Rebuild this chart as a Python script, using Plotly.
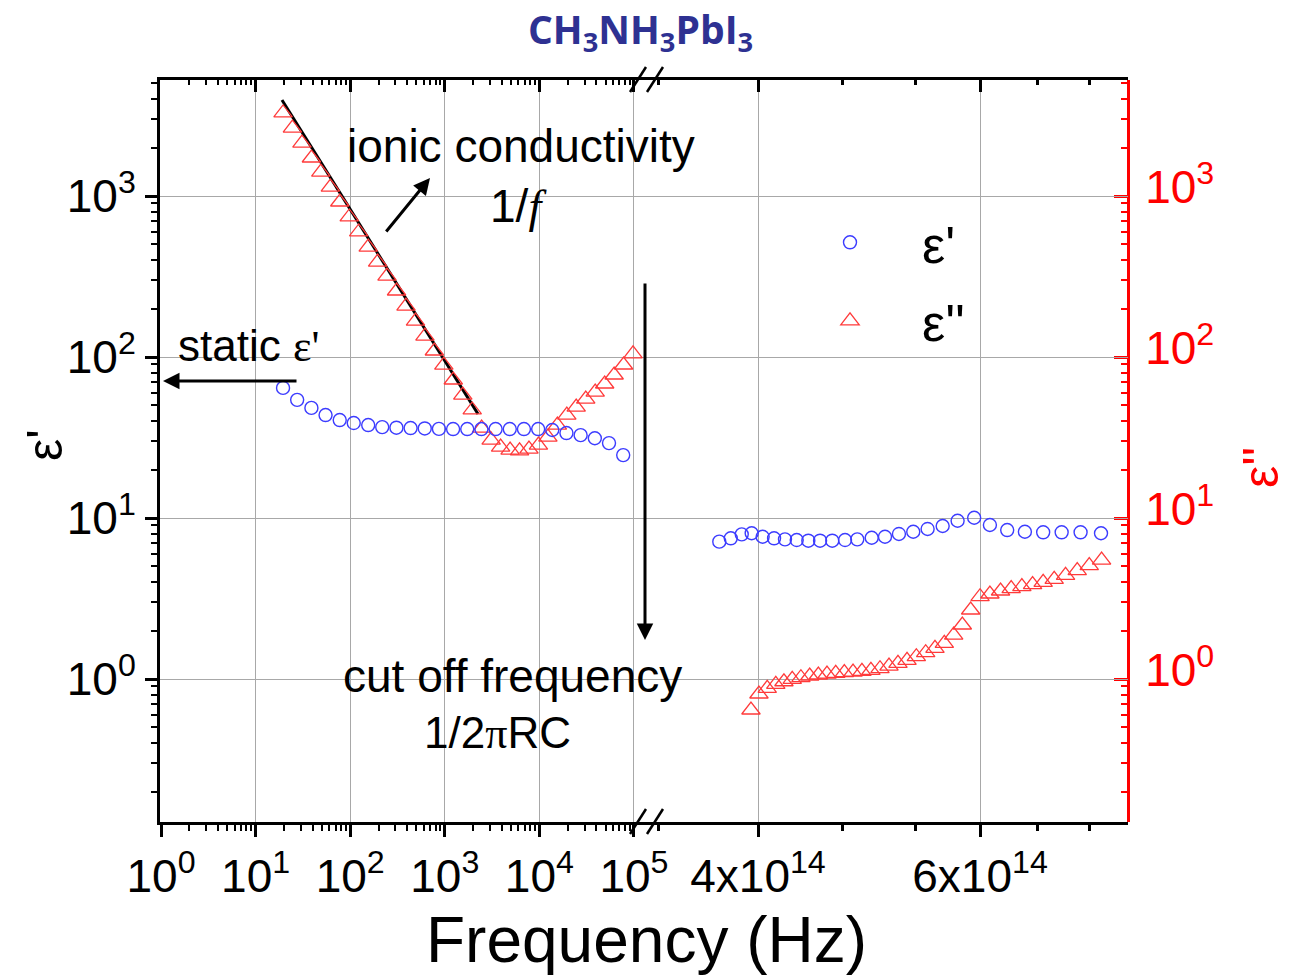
import plotly.graph_objects as go

# ---------------- data ----------------
# low-frequency (impedance) region
f_eps1_low = [19.5, 27.5, 38.9, 54.9, 77.5, 109, 155, 218, 308, 435, 614, 867, 1224, 1727,
              2439, 3444, 4863, 6866, 9705, 13680, 19320, 27290, 38550, 54450, 76900]
eps1_low = [64.3, 54.2, 48.3, 43.6, 40.6, 38.9, 37.8, 36.7, 36.4, 36.2, 36.0, 35.8, 35.7, 35.7,
            35.7, 35.7, 35.7, 35.7, 35.7, 35.2, 33.7, 32.7, 31.3, 29.2, 24.6]

f_eps2_low = [19.5, 24.5, 30.9, 38.9, 48.9, 61.7, 77.6, 97.7, 123, 155, 195, 245, 309, 389,
              490, 617, 776, 977, 1230, 1550, 1950, 2450, 3090, 3890, 4900, 6170, 7760, 9770,
              12300, 15500, 19500, 24500, 30900, 38900, 49000, 61700, 77600, 97700]
eps2_low = [3280, 2642, 2133, 1722, 1409, 1137, 918, 741, 598, 482, 389, 318, 257, 207,
            167, 135, 109, 89, 72, 58, 46.9, 36.2, 30.5, 27.6, 26.4, 26.1, 26.8, 28.4,
            31.8, 37.8, 43.6, 48.9, 54.8, 60.6, 68, 77.3, 89.2, 104.5]

# optical region
f_eps1_high = [3.727e14, 3.806e14, 3.883e14, 3.954e14, 4.034e14, 4.119e14, 4.202e14, 4.293e14,
               4.385e14, 4.480e14, 4.581e14, 4.689e14, 4.795e14, 4.923e14, 5.044e14, 5.174e14,
               5.311e14, 5.452e14, 5.604e14, 5.759e14, 5.936e14, 6.109e14, 6.305e14, 6.512e14,
               6.733e14, 6.964e14, 7.209e14, 7.483e14]
eps1_high = [7.13, 7.48, 7.92, 8.04, 7.65, 7.48, 7.37, 7.30, 7.23, 7.23, 7.23, 7.30, 7.37, 7.54,
             7.65, 7.96, 8.22, 8.55, 8.92, 9.62, 10.04, 9.05, 8.42, 8.22, 8.15, 8.15, 8.15, 8.04]

f_eps2_high = [3.949e14, 4.007e14, 4.068e14, 4.132e14, 4.194e14, 4.258e14, 4.326e14, 4.396e14,
               4.466e14, 4.537e14, 4.610e14, 4.683e14, 4.758e14, 4.836e14, 4.916e14, 4.998e14,
               5.081e14, 5.165e14, 5.251e14, 5.341e14, 5.433e14, 5.526e14, 5.621e14, 5.718e14,
               5.809e14, 5.898e14, 6.000e14, 6.109e14, 6.229e14, 6.351e14, 6.476e14, 6.604e14,
               6.733e14, 6.870e14, 7.014e14, 7.165e14, 7.324e14, 7.491e14]
eps2_high = [0.642, 0.807, 0.876, 0.927, 0.962, 0.996, 1.019, 1.044, 1.059, 1.074, 1.084, 1.095,
             1.105, 1.116, 1.132, 1.159, 1.204, 1.251, 1.306, 1.376, 1.457, 1.551, 1.665, 1.876,
             2.165, 2.683, 3.246, 3.373, 3.521, 3.640, 3.746, 3.854, 3.985, 4.159, 4.405, 4.709,
             5.058, 5.484]

# 1/f guide line
fit_f = [19.0, 2244]
fit_v = [3947, 44.3]

# tick labels
xlow_tickvals = [1, 10, 100, 1e3, 1e4, 1e5]
xlow_ticktext = ["10<sup>0</sup>", "10<sup>1</sup>", "10<sup>2</sup>", "10<sup>3</sup>",
                 "10<sup>4</sup>", "10<sup>5</sup>"]
xhigh_tickvals = [4e14, 6e14]
xhigh_ticktext = ["4x10<sup>14</sup>", "6x10<sup>14</sup>"]
xhigh_minor = [3.333e14, 4.667e14, 5.333e14, 6.667e14, 7.333e14]
y_tickvals = [1, 10, 100, 1000]
y_ticktext = ["10<sup>0</sup>", "10<sup>1</sup>", "10<sup>2</sup>", "10<sup>3</sup>"]

# ---------------- layout helpers ----------------
W, H = 1289, 977
L, R, T, B = 160, 1128, 80, 822


def px(x):
    return (x - L) / (R - L)


def py(y):
    return (B - y) / (B - T)


FONT = "Liberation Sans, Arial, sans-serif"
BLUE = "#3c3cff"
RED = "#ff3a3a"
GRID = "#a8a8a8"

xlow_minor = [m * 10 ** d for d in range(0, 5) for m in range(2, 10)]
y_minor = [m * 10 ** d for d in range(-1, 4) for m in range(2, 10)]

fig = go.Figure()

circ = dict(symbol="circle-open", size=13, color=BLUE, line=dict(width=1.4, color=BLUE))
tri = dict(symbol="triangle-up-open", size=16, color=RED, line=dict(width=1.3, color=RED))

# eps' traces live on the top overlay axes (same ranges) so those axes are drawn
fig.add_trace(go.Scatter(x=f_eps1_low, y=eps1_low, mode="markers", marker=circ, name="ε'",
                         legendgroup="a", showlegend=True, xaxis="x3", yaxis="y"))
fig.add_trace(go.Scatter(x=f_eps2_low, y=eps2_low, mode="markers", marker=tri, name="ε''",
                         legendgroup="b", showlegend=True, xaxis="x", yaxis="y2"))
fig.add_trace(go.Scatter(x=f_eps1_high, y=eps1_high, mode="markers", marker=circ, name="ε'",
                         legendgroup="a", showlegend=False, xaxis="x4", yaxis="y"))
fig.add_trace(go.Scatter(x=f_eps2_high, y=eps2_high, mode="markers", marker=tri, name="ε''",
                         legendgroup="b", showlegend=False, xaxis="x2", yaxis="y"))
fig.add_trace(go.Scatter(x=fit_f, y=fit_v, mode="lines", line=dict(color="black", width=3),
                         showlegend=False, hoverinfo="skip", xaxis="x", yaxis="y"))

xlow_range = [-0.0106, 5.127]
xhigh_range = [14.51324, 14.89548]
y_range = [-0.888, 3.7205]
split = px(646)

common_x = dict(type="log", showline=True, linewidth=3, linecolor="black", zeroline=False,
                tickcolor="black", tickwidth=2.5, ticklen=12, gridcolor=GRID, gridwidth=1,
                tickmode="array")
lab_font = dict(family=FONT, size=46, color="black")

fig.update_layout(
    width=W, height=H,
    margin=dict(l=L, r=W - R, t=T, b=H - B, pad=0),
    paper_bgcolor="white", plot_bgcolor="white",
    font=dict(family=FONT, color="black"),
    xaxis=dict(**common_x, domain=[0, split], range=xlow_range, anchor="y",
               tickvals=xlow_tickvals, ticktext=xlow_ticktext, ticks="outside", showgrid=True,
               tickfont=lab_font,
               minor=dict(tickmode="array", tickvals=xlow_minor, ticks="outside", ticklen=6,
                          tickwidth=2, tickcolor="black", showgrid=False)),
    xaxis2=dict(**common_x, domain=[split, 1], range=xhigh_range, anchor="y",
                tickvals=xhigh_tickvals, ticktext=xhigh_ticktext, ticks="outside", showgrid=True,
                tickfont=lab_font,
                minor=dict(tickmode="array", tickvals=xhigh_minor, ticks="outside", ticklen=6,
                           tickwidth=2.5, tickcolor="black", showgrid=False)),
    xaxis3=dict(**common_x, overlaying="x", side="top", anchor="y", range=xlow_range,
                tickvals=xlow_tickvals, ticks="inside", showticklabels=False, showgrid=False,
                minor=dict(tickmode="array", tickvals=xlow_minor, ticks="inside", ticklen=5,
                           tickwidth=2, tickcolor="black", showgrid=False)),
    xaxis4=dict(**common_x, overlaying="x2", side="top", anchor="y", range=xhigh_range,
                tickvals=xhigh_tickvals, ticks="inside", showticklabels=False, showgrid=False,
                minor=dict(tickmode="array", tickvals=xhigh_minor, ticks="inside", ticklen=5,
                           tickwidth=2.5, tickcolor="black", showgrid=False)),
    yaxis=dict(type="log", domain=[0, 1], range=y_range, anchor="x", showline=True,
               linewidth=3, linecolor="black", zeroline=False, tickmode="array",
               tickvals=y_tickvals, ticktext=y_ticktext, ticks="outside", ticklen=12,
               tickwidth=2.5, tickcolor="black", showgrid=True, gridcolor=GRID, gridwidth=1,
               tickfont=lab_font,
               minor=dict(tickmode="array", tickvals=y_minor, ticks="outside", ticklen=6,
                          tickwidth=2, tickcolor="black", showgrid=False)),
    yaxis2=dict(type="log", range=y_range, overlaying="y", side="right", anchor="free",
                position=1,
                showline=True, linewidth=3, linecolor="red", zeroline=False, tickmode="array",
                tickvals=y_tickvals, ticktext=y_ticktext, ticks="inside", ticklen=13,
                tickwidth=2.5, tickcolor="red", showgrid=False, ticklabelshift=-9,
                ticklabelstandoff=6,
                tickfont=dict(family=FONT, size=46, color="red"),
                minor=dict(tickmode="array", tickvals=y_minor, ticks="inside", ticklen=6,
                           tickwidth=2, tickcolor="red", showgrid=False)),
    legend=dict(x=px(778), y=py(202), xanchor="left", yanchor="top",
                bgcolor="rgba(0,0,0,0)", font=dict(family=FONT, size=52, color="black"),
                itemwidth=134, tracegroupgap=8),
    showlegend=True,
)

annotations = [
    dict(x=px(640), y=py(31), text="<b>CH<sub>3</sub>NH<sub>3</sub>PbI<sub>3</sub></b>",
         font=dict(family="Open Sans, sans-serif", size=39, color="#2e3192")),
    dict(x=px(521), y=py(146), text="ionic conductivity", font=dict(size=46)),
    dict(x=px(518), y=py(206), text="1/<span style='font-family:Liberation Serif'><i>f</i></span>",
         font=dict(size=46)),
    dict(x=px(176), y=py(346), xanchor="left",
         text="static <span style='font-family:Liberation Serif'>ε'</span>", font=dict(size=44)),
    dict(x=px(512), y=py(676), text="cut off frequency", font=dict(size=46)),
    dict(x=px(497), y=py(733), text="1/2<span style='font-family:Liberation Serif'>π</span>RC",
         font=dict(size=44)),
    dict(x=px(646), y=py(940), text="Frequency (Hz)", font=dict(size=64)),
    dict(x=px(45), y=py(445), text="ε'", textangle=-90, font=dict(size=50)),
    dict(x=px(1261), y=py(468), text="ε''", textangle=-90, font=dict(size=50, color="red")),
    # arrows
    dict(x=px(430), y=py(178), ax=-45, ay=55, text="", showarrow=True, arrowhead=2,
         arrowsize=1.1, arrowwidth=3, arrowcolor="black"),
    dict(x=px(163), y=py(381), ax=135, ay=0, text="", showarrow=True, arrowhead=2,
         arrowsize=1.1, arrowwidth=3, arrowcolor="black"),
    dict(x=px(645), y=py(640), ax=0, ay=-358, text="", showarrow=True, arrowhead=2,
         arrowsize=1.1, arrowwidth=3, arrowcolor="black"),
]
for a in annotations:
    a.setdefault("xref", "paper")
    a.setdefault("yref", "paper")
    a.setdefault("showarrow", False)
    a.setdefault("xanchor", "center")
    a.setdefault("yanchor", "middle")
    fig.add_annotation(**a)

# axis break marks
for yb in (822, 80):
    for x0 in (630, 647):
        fig.add_shape(type="line", xref="paper", yref="paper",
                      x0=px(x0), y0=py(yb + 12), x1=px(x0 + 16), y1=py(yb - 13),
                      line=dict(color="black", width=2.5))

fig.write_html("out.html")
